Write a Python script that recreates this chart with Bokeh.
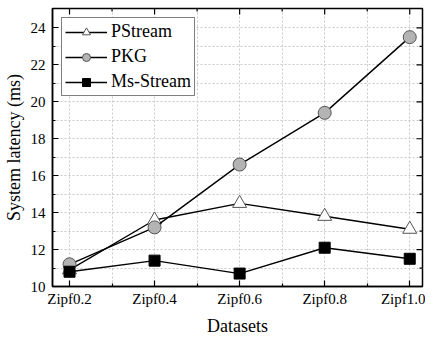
from bokeh.plotting import figure
from bokeh.models import FixedTicker, Range1d, Legend, LegendItem
from bokeh.embed import file_html
from bokeh.resources import INLINE
import math

categories = ["Zipf0.2", "Zipf0.4", "Zipf0.6", "Zipf0.8", "Zipf1.0"]
pstream = [10.9, 13.6, 14.5, 13.8, 13.1]
pkg = [11.2, 13.2, 16.6, 19.4, 23.5]
msstream = [10.8, 11.4, 10.7, 12.1, 11.5]
y_major = [10, 12, 14, 16, 18, 20, 22, 24]
y_minor = [11, 13, 15, 17, 19, 21, 23]

xs = list(range(len(categories)))
x_minor = [i + 0.5 for i in xs[:-1]]

FONT = "Liberation Serif"
X0, X1 = -0.2, 4.15
Y0, Y1 = 10, 25.05

p = figure(width=425, height=338, output_backend="svg", toolbar_location=None,
           x_range=Range1d(X0, X1), y_range=Range1d(Y0, Y1),
           min_border_left=52, min_border_right=3, min_border_top=8, min_border_bottom=44)
p.background_fill_color = "white"
p.border_fill_color = "white"
p.outline_line_color = "black"
p.outline_line_width = 1.5

xt = FixedTicker(ticks=xs, minor_ticks=x_minor)
yt = FixedTicker(ticks=y_major, minor_ticks=y_minor)

def style_axis(ax):
    ax.axis_line_color = "black"
    ax.axis_line_width = 1.5
    ax.major_tick_in = 6
    ax.major_tick_out = 0
    ax.minor_tick_in = 3
    ax.minor_tick_out = 0
    ax.major_tick_line_color = "black"
    ax.minor_tick_line_color = "black"
    ax.major_tick_line_width = 1.2
    ax.minor_tick_line_width = 1.2
    ax.major_label_text_font = FONT
    ax.major_label_text_font_size = "15px"
    ax.major_label_text_color = "black"
    ax.axis_label_text_font = FONT
    ax.axis_label_text_font_size = "18px"
    ax.axis_label_text_font_style = "normal"
    ax.axis_label_text_color = "black"

xa = p.xaxis[0]
xa.ticker = xt
xa.major_label_overrides = {i: c for i, c in zip(xs, categories)}
xa.axis_label = "Datasets"
xa.major_label_standoff = 4
xa.axis_label_standoff = 6
style_axis(xa)

ya = p.yaxis[0]
ya.ticker = yt
ya.axis_label = "System latency (ms)"
ya.major_label_standoff = 7
ya.axis_label_standoff = 4
style_axis(ya)

# mirrored inward ticks on the top and right edges (clipped to the frame)
p.scatter([X1] * len(y_major), y_major, marker="dash", size=12, line_color="black", line_width=1.2)
p.scatter([X1] * len(y_minor), y_minor, marker="dash", size=6, line_color="black", line_width=1.2)
p.scatter(xs, [Y1] * len(xs), marker="dash", angle=math.pi / 2, size=12, line_color="black", line_width=1.2)
p.scatter(x_minor, [Y1] * len(x_minor), marker="dash", angle=math.pi / 2, size=6, line_color="black", line_width=1.2)

for g, t in ((p.xgrid[0], xt), (p.ygrid[0], yt)):
    g.ticker = t
    g.grid_line_color = "#c8c8c8"
    g.grid_line_dash = "2 2"
    g.grid_line_width = 1
    g.minor_grid_line_color = "#c8c8c8"
    g.minor_grid_line_dash = "2 2"
    g.minor_grid_line_width = 1

items = []
specs = [
    ("PStream", pstream, "triangle", "white", "#555555", 14),
    ("PKG", pkg, "circle", "#b4b4b4", "#555555", 13),
    ("Ms-Stream", msstream, "square", "black", "black", 11),
]
for name, vals, marker, fill, outline, size in specs:
    ln = p.line(xs, vals, line_color="black", line_width=1.4)
    sc = p.scatter(xs, vals, marker=marker, size=size, fill_color=fill,
                   line_color=outline, line_width=1)
    items.append(LegendItem(label=name, renderers=[ln, sc]))

legend = Legend(items=items, location="top_left")
legend.label_text_font = FONT
legend.label_text_font_size = "18px"
legend.label_text_color = "black"
legend.border_line_color = "black"
legend.border_line_width = 1
legend.background_fill_alpha = 1
legend.glyph_width = 42
legend.glyph_height = 20
legend.label_height = 20
legend.spacing = 4
legend.padding = 3
legend.margin = 9
legend.label_standoff = 4
p.add_layout(legend)

open("out.html", "w").write(file_html(p, INLINE))
